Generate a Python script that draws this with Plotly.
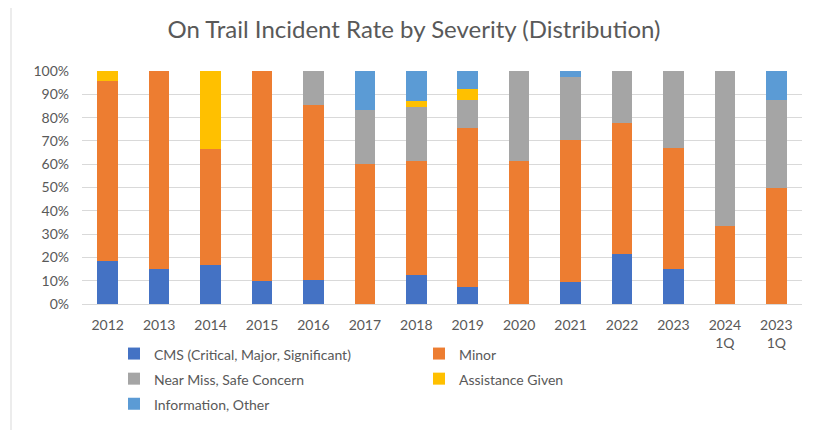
import plotly.graph_objects as go

categories = ["2012", "2013", "2014", "2015", "2016", "2017", "2018", "2019",
              "2020", "2021", "2022", "2023", "2024<br>1Q", "2023<br>1Q"]

cms = [18.3, 14.9, 16.7, 10.0, 10.5, 0, 12.5, 7.2, 0, 9.6, 21.6, 15.0, 0, 0]
minor = [77.6, 85.1, 50.0, 90.0, 75.0, 60.0, 49.0, 68.2, 61.4, 60.8, 56.2, 52.1, 33.3, 50.0]
near_miss = [0, 0, 0, 0, 14.5, 23.3, 23.2, 12.3, 38.6, 26.9, 22.2, 32.9, 66.7, 37.5]
assistance = [4.1, 0, 33.3, 0, 0, 0, 2.4, 4.7, 0, 0, 0, 0, 0, 0]
info = [0, 0, 0, 0, 0, 16.7, 12.9, 7.6, 0, 2.7, 0, 0, 0, 12.5]

series = [
    ("CMS (Critical, Major, Significant)", cms, "#4472C4"),
    ("Minor", minor, "#ED7D31"),
    ("Near Miss, Safe Concern", near_miss, "#A5A5A5"),
    ("Assistance Given", assistance, "#FFC000"),
    ("Information, Other", info, "#5B9BD5"),
]

FONT = "Lato, Calibri, Carlito, sans-serif"
GREY = "#595959"

# page has an 8px body margin; figure is sized to fit inside the window
W, H = 805, 422
L, T, R, B = 74, 63, 11, 126
PH = H - T - B  # plot height

fig = go.Figure()
for name, vals, color in series:
    fig.add_trace(go.Bar(
        name="<span style='font-size:14px'>" + name + "</span>",
        x=list(range(len(categories))), y=[v / 100 for v in vals],
        marker=dict(color=color, line=dict(width=0)),
    ))

fig.update_layout(
    barmode="stack",
    bargap=0.6,
    width=W, height=H,
    margin=dict(l=L, r=R, t=T, b=B, autoexpand=False),
    paper_bgcolor="white", plot_bgcolor="white",
    font=dict(family=FONT, size=14, color=GREY),
    title=dict(text="On Trail Incident Rate by Severity (Distribution)",
               x=406 / W, xanchor="center", y=1 - 22 / H, yanchor="middle",
               font=dict(family=FONT, size=24, color=GREY)),
    xaxis=dict(tickmode="array", tickvals=list(range(len(categories))),
               ticktext=categories, showgrid=False, showline=False,
               zeroline=False, ticks="", range=[-0.5, len(categories) - 0.5],
               ticklabelstandoff=11,
               tickfont=dict(size=14, color=GREY)),
    yaxis=dict(range=[0, 1.0], tickformat=".0%", dtick=0.1,
               showgrid=True, gridcolor="#D9D9D9", gridwidth=1,
               zeroline=True, zerolinecolor="#D9D9D9", zerolinewidth=1,
               showline=False, ticks="", ticklabelstandoff=12,
               tickfont=dict(size=14, color=GREY)),
    legend=dict(orientation="h", x=(106 - L) / (W - L - R), xanchor="left",
                y=-32 / PH, yanchor="top", entrywidth=260, entrywidthmode="pixels",
                traceorder="normal", font=dict(size=17, color=GREY),
                bgcolor="rgba(0,0,0,0)",
                itemwidth=30, tracegroupgap=0),
    showlegend=True,
)

fig.add_shape(type="line", xref="paper", yref="paper",
              x0=(3 - L) / (W - L - R), x1=(3 - L) / (W - L - R),
              y0=-B / PH, y1=(H - B) / PH,
              line=dict(color="#D9D9D9", width=1))

fig.write_html("out.html")
